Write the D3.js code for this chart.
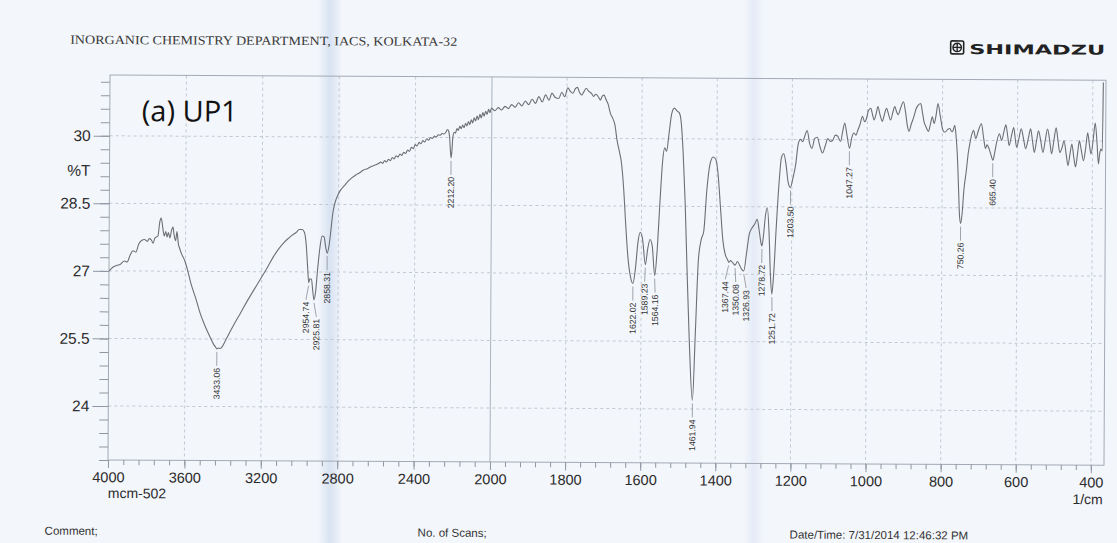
<!DOCTYPE html>
<html>
<head>
<meta charset="utf-8">
<script src="https://cdn.jsdelivr.net/npm/d3@7"></script>
<style>
  html, body { margin: 0; padding: 0; background: #f3f6fb; }
  svg { display: block; }
</style>
</head>
<body>
<script>
// ---- data ----
var wavenumber = [
  4000, 3980, 3960, 3940, 3920, 3905, 3890, 3875, 3860, 3845, 3830, 3815, 3800, 3790, 3780, 3770,
  3760, 3745, 3735, 3728, 3720, 3712, 3704, 3697, 3690, 3682, 3674, 3666, 3660, 3652, 3645, 3638,
  3630, 3620, 3605, 3590, 3570, 3545, 3520, 3495, 3470, 3450, 3440, 3433, 3425, 3415, 3405, 3390,
  3370, 3345, 3310, 3275, 3240, 3205, 3170, 3140, 3110, 3085, 3060, 3040, 3020, 3005, 2990, 2978,
  2968, 2960, 2954, 2948, 2940, 2932, 2926, 2918, 2908, 2896, 2885, 2875, 2866, 2858, 2850, 2840,
  2830, 2818, 2805, 2790, 2770, 2750, 2730, 2710, 2690, 2670, 2650, 2630, 2610, 2590,
  2580, 2570, 2560, 2550, 2540, 2530, 2520, 2510, 2500, 2490, 2480, 2470, 2460, 2450, 2440, 2430,
  2420, 2410, 2400, 2390, 2380, 2370, 2360, 2350, 2340, 2330, 2320, 2310, 2300, 2290, 2280, 2270,
  2260, 2250, 2240, 2232, 2226, 2220, 2216, 2212, 2208, 2203, 2196, 2190, 2182, 2175, 2167, 2160,
  2152, 2145, 2137, 2130, 2122, 2115, 2107, 2100, 2092, 2085, 2077, 2070, 2062, 2055, 2047, 2040,
  2032, 2025, 2017, 2010, 2002,
  1992, 1983, 1974, 1965, 1956, 1947, 1938, 1929, 1920, 1911, 1902, 1893, 1884, 1875, 1866, 1857,
  1848, 1840, 1831, 1822, 1814, 1806, 1798, 1791, 1784, 1778, 1772, 1767, 1761, 1756, 1749, 1742,
  1735, 1729, 1724, 1720, 1715, 1711, 1706, 1701, 1697,
  1690, 1684, 1678, 1672, 1666, 1660, 1654, 1648, 1642, 1636, 1629, 1622, 1615, 1609, 1603, 1597,
  1589, 1583, 1577, 1571, 1564, 1558, 1551, 1544, 1539, 1534, 1528, 1521, 1514, 1507, 1501, 1496,
  1490, 1484, 1478, 1471, 1462, 1455, 1448, 1441, 1434, 1426, 1418, 1410, 1403, 1397, 1390, 1383,
  1376, 1370, 1367, 1362, 1356, 1350, 1344, 1338, 1332, 1327, 1320, 1313, 1306, 1298, 1292, 1286,
  1282, 1279, 1275, 1270, 1265, 1260, 1256, 1252, 1247, 1241, 1234, 1228, 1222, 1216, 1210, 1204,
  1197, 1190, 1184, 1178, 1172, 1166, 1160, 1153, 1147, 1140, 1133, 1126, 1119, 1112, 1105, 1098,
  1092, 1085, 1079, 1071, 1065, 1060, 1054, 1047, 1041, 1036, 1030, 1026, 1019, 1013, 1007, 1003,
  997, 991, 986, 982, 976, 972, 966, 960, 955, 949, 943, 938, 932, 927, 922, 918,
  911, 904, 898, 893, 889, 883, 876, 870, 864, 858, 853, 849, 843, 837, 832, 827,
  822, 817, 812, 806, 800, 795, 791, 786, 780, 776, 773, 767, 763, 760, 756, 753,
  750, 746, 742, 736, 731, 726, 721, 717, 711, 704, 696, 690, 685, 681, 677, 671,
  665, 661, 657, 648, 642, 636, 631, 626, 622, 616, 610, 606, 602, 596, 590, 584,
  578, 571, 565, 560, 555, 549, 544, 538, 532, 526, 520, 514, 509, 503, 497, 492,
  487, 481, 476, 470, 465, 460, 455, 450, 445, 440, 435, 430, 424, 418, 413, 408,
  404, 398, 393, 388, 384, 381, 378, 374, 372
];
var transmittance = [
  27.00, 27.08, 27.12, 27.15, 27.22, 27.20, 27.35, 27.45, 27.42, 27.60, 27.68, 27.70, 27.66, 27.72, 27.70, 27.62,
  27.74, 27.78, 28.10, 28.18, 27.98, 27.78, 27.88, 27.76, 27.86, 27.74, 27.90, 27.98, 27.80, 27.68, 27.88, 27.62,
  27.50, 27.38, 27.25, 27.05, 26.72, 26.40, 26.05, 25.78, 25.55, 25.38, 25.32, 25.28, 25.30, 25.29, 25.33, 25.45,
  25.62, 25.82, 26.08, 26.35, 26.60, 26.85, 27.10, 27.33, 27.52, 27.65, 27.75, 27.82, 27.88, 27.94, 27.94, 27.88,
  27.60, 27.10, 26.76, 26.85, 26.84, 26.55, 26.38, 26.55, 27.05, 27.55, 27.80, 27.78, 27.55, 27.42, 27.55, 27.90,
  28.30, 28.55, 28.70, 28.82, 28.92, 29.02, 29.10, 29.16, 29.21, 29.27, 29.30, 29.35, 29.38, 29.42,
  29.45, 29.42, 29.48, 29.45, 29.51, 29.48, 29.55, 29.52, 29.59, 29.56, 29.63, 29.60, 29.67, 29.64, 29.72, 29.69,
  29.78, 29.75, 29.84, 29.81, 29.89, 29.86, 29.93, 29.90, 29.97, 29.94, 30.00, 29.98, 30.03, 30.01, 30.06, 30.05,
  30.09, 30.08, 30.12, 30.18, 30.15, 30.00, 29.72, 29.55, 29.70, 30.02, 30.12, 30.10, 30.20, 30.16, 30.25, 30.20,
  30.28, 30.22, 30.32, 30.26, 30.36, 30.29, 30.40, 30.33, 30.44, 30.37, 30.48, 30.40, 30.52, 30.44, 30.56, 30.48,
  30.59, 30.52, 30.63, 30.56, 30.66,
  30.60, 30.67, 30.62, 30.70, 30.65, 30.74, 30.68, 30.78, 30.71, 30.82, 30.74, 30.86, 30.77, 30.92, 30.80, 30.96,
  30.84, 31.00, 30.90, 30.88, 31.02, 30.92, 31.12, 31.04, 31.00, 31.10, 31.13, 31.02, 30.96, 31.02, 31.11, 31.04,
  31.00, 30.93, 30.98, 30.96, 30.90, 30.85, 30.94, 30.96, 30.88,
  30.75, 30.55, 30.45, 30.30, 29.95, 29.72, 29.45, 28.90, 28.10, 27.40, 26.95, 26.78, 27.15, 27.70, 27.92, 27.78,
  27.20, 27.55, 27.76, 27.62, 26.96, 27.50, 28.60, 29.55, 29.80, 29.72, 30.10, 30.55, 30.68, 30.62, 30.58, 30.40,
  29.70, 28.60, 27.10, 25.50, 24.19, 25.70, 27.30, 27.75, 27.95, 28.90, 29.45, 29.60, 29.55, 29.25, 28.50, 27.75,
  27.42, 27.32, 27.26, 27.30, 27.25, 27.20, 27.28, 27.20, 27.10, 27.07, 27.45, 27.88, 28.02, 28.12, 28.22, 27.95,
  27.72, 27.63, 27.85, 28.30, 28.48, 27.90, 27.00, 26.56, 27.05, 28.05, 29.05, 29.60, 29.68, 29.45, 29.05, 28.93,
  29.15, 29.45, 29.88, 30.00, 29.95, 30.08, 30.20, 29.90, 29.80, 30.02, 30.05, 29.85, 29.70, 29.85, 30.02, 29.96,
  29.98, 30.10, 30.08, 29.96, 30.20, 30.37, 30.10, 29.81, 30.05, 30.15, 30.10, 30.19, 30.35, 30.52, 30.40, 30.45,
  30.65, 30.70, 30.55, 30.44, 30.60, 30.74, 30.55, 30.41, 30.55, 30.70, 30.55, 30.44, 30.62, 30.74, 30.62, 30.56,
  30.72, 30.85, 30.60, 30.30, 30.19, 30.35, 30.52, 30.70, 30.78, 30.81, 30.60, 30.41, 30.28, 30.19, 30.35, 30.52,
  30.37, 30.55, 30.81, 30.55, 30.26, 30.18, 30.19, 30.24, 30.26, 30.20, 30.19, 30.33, 30.05, 29.70, 28.90, 28.30,
  28.15, 28.40, 28.89, 29.30, 29.70, 29.96, 30.15, 30.22, 30.04, 30.22, 30.37, 30.05, 29.82, 29.90, 29.85, 29.70,
  29.56, 29.70, 29.89, 30.15, 30.00, 30.20, 30.35, 30.10, 29.89, 30.10, 30.29, 30.05, 29.85, 30.05, 30.26, 30.05,
  29.82, 30.05, 30.26, 30.00, 29.74, 30.00, 30.22, 30.00, 29.74, 30.00, 30.26, 30.00, 29.71, 30.00, 30.29, 30.00,
  29.74, 29.85, 30.00, 29.70, 29.45, 29.70, 29.93, 29.65, 29.42, 29.70, 30.00, 29.80, 29.56, 29.85, 30.18, 29.90,
  29.71, 30.05, 30.40, 29.95, 29.49, 29.70, 29.82, 29.78, 31.30
];

var peaks = [3433.06, 2954.74, 2925.81, 2858.31, 2212.20, 1622.02, 1589.23, 1564.16, 1461.94,
             1367.44, 1350.08, 1326.93, 1278.72, 1251.72, 1203.50, 1047.27, 750.26, 665.40];

var xLabels = [4000, 3600, 3200, 2800, 2400, 2000, 1800, 1600, 1400, 1200, 1000, 800, 600, 400];
var yLabels = [24, 25.5, 27, 28.5, 30];
var footer = ["Comment;", "No. of Scans;", "Date/Time: 7/31/2014 12:46:32 PM"];

// ---- page ----
var W = 1117, H = 543;
var svg = d3.select("body").append("svg")
            .attr("width", W)
            .attr("height", H);

// scanned paper tone + fold shadows
var defs = svg.append("defs");
var fold = defs.append("linearGradient").attr("id", "fold");
fold.append("stop").attr("offset", "0%").attr("stop-color", "#cfdcef").attr("stop-opacity", 0);
fold.append("stop").attr("offset", "50%").attr("stop-color", "#cfdcef").attr("stop-opacity", 0.75);
fold.append("stop").attr("offset", "100%").attr("stop-color", "#cfdcef").attr("stop-opacity", 0);

svg.append("rect").attr("width", W).attr("height", H).attr("fill", "#f3f6fb");
svg.append("rect").attr("x", 318).attr("y", 0).attr("width", 24).attr("height", H).attr("fill", "url(#fold)");
svg.append("rect").attr("x", 744).attr("y", 0).attr("width", 20).attr("height", H).attr("fill", "url(#fold)").attr("opacity", 0.55);

// the sheet was scanned a little crooked
var page = svg.append("g").attr("transform", "rotate(0.3,108,460)");

// scales: Shimadzu chart, scale doubles below 2000 1/cm
var x = d3.scaleLinear().domain([4000, 2000, 365]).range([108, 490, 1104]);
var y = d3.scaleLinear().domain([22.8, 31.35]).range([460, 75]);

var ink = "#2b2b2b";
var sans = "'Liberation Sans', Arial, sans-serif";

// header
page.append("text")
    .attr("x", 68).attr("y", 44)
    .attr("textLength", 387).attr("lengthAdjust", "spacingAndGlyphs")
    .style("font-family", "'Liberation Serif', 'DejaVu Serif', serif")
    .style("font-size", "12.5px")
    .attr("fill", "#3a3a3a")
    .text("INORGANIC CHEMISTRY DEPARTMENT, IACS, KOLKATA-32");

// logo
var logo = page.append("g").attr("transform", "translate(948,36)");
logo.append("rect").attr("x", 0.5).attr("y", 0.5).attr("width", 13).attr("height", 13).attr("rx", 1.5)
    .attr("fill", "none").attr("stroke", "#222").attr("stroke-width", 1.6);
logo.append("circle").attr("cx", 7).attr("cy", 7).attr("r", 4.2)
    .attr("fill", "none").attr("stroke", "#222").attr("stroke-width", 1.4);
logo.append("path").attr("d", "M7,2.8V11.2M2.8,7H11.2").attr("stroke", "#222").attr("stroke-width", 1.4);
page.append("text")
    .attr("x", 967).attr("y", 49.5)
    .attr("textLength", 136).attr("lengthAdjust", "spacingAndGlyphs")
    .style("font-family", "'DejaVu Sans', sans-serif")
    .style("font-weight", "bold")
    .style("font-size", "13.5px")
    .attr("fill", "#222")
    .text("SHIMADZU");

// grid
var grid = page.append("g");
grid.selectAll("line.gy")
    .data(yLabels)
    .enter()
    .append("line")
    .attr("x1", 108).attr("x2", 1104)
    .attr("y1", function(d) { return y(d); })
    .attr("y2", function(d) { return y(d); })
    .attr("stroke", "#c3c9d3")
    .attr("stroke-dasharray", "3,3");
grid.selectAll("line.gx")
    .data(xLabels.filter(function(d) { return d !== 4000; }))
    .enter()
    .append("line")
    .attr("x1", function(d) { return x(d); })
    .attr("x2", function(d) { return x(d); })
    .attr("y1", 75).attr("y2", 460)
    .attr("stroke", function(d) { return d === 2000 ? "#aab3c0" : "#c3c9d3"; })
    .attr("stroke-dasharray", function(d) { return d === 2000 ? null : "3,3"; });

// frame
page.append("rect")
    .attr("x", 108).attr("y", 75)
    .attr("width", 1104 - 108).attr("height", 460 - 75)
    .attr("fill", "none")
    .attr("stroke", "#a3aab5");

// axes
var xMinor = d3.range(0, 26).map(function(i) { return 4000 - 80 * i; })
               .concat(d3.range(1, 41).map(function(i) { return 2000 - 40 * i; }));
var yMinor = d3.range(0, 29).map(function(i) { return +(22.8 + 0.3 * i).toFixed(1); });

function styleAxis(g) {
  g.select(".domain").remove();
  g.selectAll(".tick line").attr("stroke", "#8f97a3");
  g.selectAll("text")
   .attr("fill", ink)
   .style("font-family", sans)
   .style("font-size", "14.5px");
}

page.append("g").attr("transform", "translate(0,460)")
    .call(d3.axisBottom(x).tickValues(xMinor).tickSize(5).tickFormat(""))
    .call(styleAxis);
page.append("g").attr("transform", "translate(0,460)")
    .call(d3.axisBottom(x).tickValues(xLabels).tickSize(8).tickPadding(4).tickFormat(d3.format("d")))
    .call(styleAxis);
page.append("g").attr("transform", "translate(108,0)")
    .call(d3.axisLeft(y).tickValues(yMinor).tickSize(9).tickFormat(""))
    .call(styleAxis);
var yAx = page.append("g").attr("transform", "translate(108,0)")
    .call(d3.axisLeft(y).tickValues(yLabels).tickSize(16).tickPadding(3).tickFormat(d3.format("")))
    .call(styleAxis);
yAx.selectAll("text").style("font-size", "15.5px");

page.append("text").attr("x", 89).attr("y", 176).attr("text-anchor", "end")
    .style("font-family", sans).style("font-size", "15.5px").attr("fill", ink).text("%T");
page.append("text").attr("x", 108).attr("y", 498)
    .style("font-family", sans).style("font-size", "14px").attr("fill", ink).text("mcm-502");
page.append("text").attr("x", 1103).attr("y", 499).attr("text-anchor", "end")
    .style("font-family", sans).style("font-size", "14px").attr("fill", ink).text("1/cm");

// spectrum
var spectrum = d3.zip(wavenumber, transmittance);
page.append("path")
    .datum(spectrum)
    .attr("fill", "none")
    .attr("stroke", "#6c6f74")
    .attr("stroke-width", 1.1)
    .attr("stroke-linejoin", "round")
    .attr("d", d3.line()
                 .x(function(d) { return x(d[0]); })
                 .y(function(d) { return y(d[1]); })
                 .curve(d3.curveMonotoneX));

// peak labels: T taken from nearest spectrum point
function valueAt(wn) {
  var best = 0;
  for (var i = 1; i < wavenumber.length; i++) {
    if (Math.abs(wavenumber[i] - wn) < Math.abs(wavenumber[best] - wn)) best = i;
  }
  return transmittance[best];
}
var marks = peaks.map(function(p) {
  return {wn: p, px: x(p), py: y(valueAt(p)) + 3, lx: x(p)};
});
// spread crowded labels apart
marks.sort(function(a, b) { return a.px - b.px; });
for (var it = 0; it < 30; it++) {
  for (var i = 1; i < marks.length; i++) {
    var gap = marks[i].lx - marks[i - 1].lx;
    if (gap < 10.5) {
      var push = (10.5 - gap) / 2;
      marks[i - 1].lx -= push;
      marks[i].lx += push;
    }
  }
}

var lab = page.append("g");
lab.selectAll("path.leader")
   .data(marks)
   .enter()
   .append("path")
   .attr("d", function(d) {
     return "M" + d.px + "," + d.py + "L" + d.lx + "," + (d.py + 14);
   })
   .attr("fill", "none")
   .attr("stroke", "#8a8f96")
   .attr("stroke-width", 0.8);
lab.selectAll("text.peak")
   .data(marks)
   .enter()
   .append("text")
   .attr("transform", function(d) {
     return "translate(" + (d.lx + 3) + "," + (d.py + 16) + ") rotate(-90)";
   })
   .attr("text-anchor", "end")
   .style("font-family", sans)
   .style("font-size", "8.7px")
   .attr("fill", "#333")
   .text(function(d) { return d.wn.toFixed(2); });

// sample tag
page.append("text")
    .attr("x", 140).attr("y", 121)
    .style("font-family", "'Open Sans', Lato, sans-serif")
    .style("font-size", "29px")
    .attr("fill", "#111")
    .text("(a) UP1");

// footer (bottom edge of the scan)
var footX = [45, 418, 790];
page.selectAll("text.foot")
    .data(footer)
    .enter()
    .append("text")
    .attr("x", function(d, i) { return footX[i]; })
    .attr("y", 535)
    .style("font-family", sans)
    .style("font-size", "11.5px")
    .attr("fill", "#333")
    .text(function(d) { return d; });
</script>
</body>
</html>
